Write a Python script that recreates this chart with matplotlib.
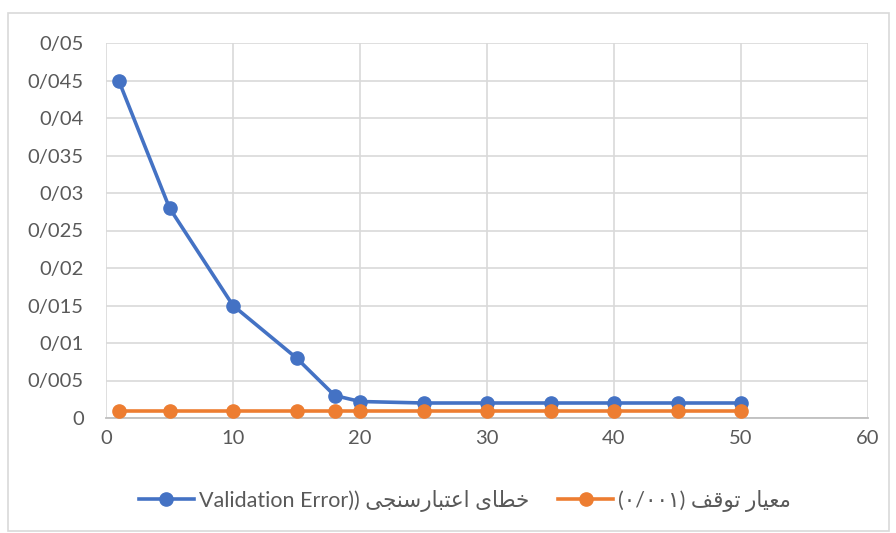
import matplotlib
matplotlib.use("Agg")
import matplotlib.pyplot as plt
from matplotlib.patches import Rectangle

plt.rcParams['font.family'] = ['Lato', 'DejaVu Sans']

# ---- data ----
epochs = [1, 5, 10, 15, 18, 20, 25, 30, 35, 40, 45, 50]
val_error = [0.045, 0.028, 0.015, 0.008, 0.003, 0.0022, 0.002, 0.002, 0.002, 0.002, 0.002, 0.002]
stop_criterion = [0.001] * 12
x_ticks = [0, 10, 20, 30, 40, 50, 60]
y_ticks = [0, 0.005, 0.01, 0.015, 0.02, 0.025, 0.03, 0.035, 0.04, 0.045, 0.05]
y_tick_labels = ["0", "0/005", "0/01", "0/015", "0/02", "0/025", "0/03", "0/035", "0/04", "0/045", "0/05"]

# legend labels (Persian written in shaped presentation forms, visual order)
label_val = ("Validation Error)) "
             "\uFBFD\uFEA0\uFEE8\uFEB3\uFEAD\uFE8E\uFE92\uFE98\uFECB\uFE8D"
             " \uFBFC\uFE8E\uFEC4\uFEA7")
label_stop = ("(\u06F0/\u06F0\u06F0\u06F1) "
              "\uFED2\uFED7\uFEEE\uFE97"
              " \uFEAD\uFE8E\uFBFF\uFECC\uFEE3")

blue = "#4472C4"
orange = "#ED7D31"
tick_color = "#595959"
grid_color = "#D9D9D9"

fig = plt.figure(figsize=(8.96, 5.33), dpi=100)
ax = fig.add_axes([106/896, 1-418/533, (868-106)/896, (418-43)/533])

ax.plot(epochs, val_error, color=blue, lw=2.6, marker='o', ms=9.5,
        label=label_val, clip_on=False, zorder=3)
ax.plot(epochs, stop_criterion, color=orange, lw=2.6, marker='o', ms=9.5,
        label=label_stop, clip_on=False, zorder=3)

ax.set_xlim(0, 60)
ax.set_ylim(0, 0.05)
ax.set_xticks(x_ticks)
ax.set_yticks(y_ticks)
ax.set_yticklabels(y_tick_labels)
ax.grid(True, color=grid_color, lw=1.2, zorder=0)
ax.set_axisbelow(True)
for s in ['top', 'right', 'left']:
    ax.spines[s].set_visible(False)
ax.spines['bottom'].set_color('#BFBFBF')
ax.spines['bottom'].set_linewidth(1.3)
ax.tick_params(axis='both', length=0, colors=tick_color, labelsize=14.5)
ax.tick_params(axis='y', pad=16)
ax.tick_params(axis='x', pad=9)

leg = fig.legend(loc='center', bbox_to_anchor=(465/896, 1-501/533), ncol=2,
                 frameon=False, fontsize=15.5, handlelength=2.55,
                 columnspacing=1.35, handletextpad=0.25, labelcolor=tick_color)

fig.patches.append(Rectangle((8/896, 1-531/533), (889-8)/896, (531-13)/533,
                             transform=fig.transFigure, fill=False,
                             edgecolor='#D9D9D9', lw=1.2))

fig.savefig("out.png", dpi=100)
